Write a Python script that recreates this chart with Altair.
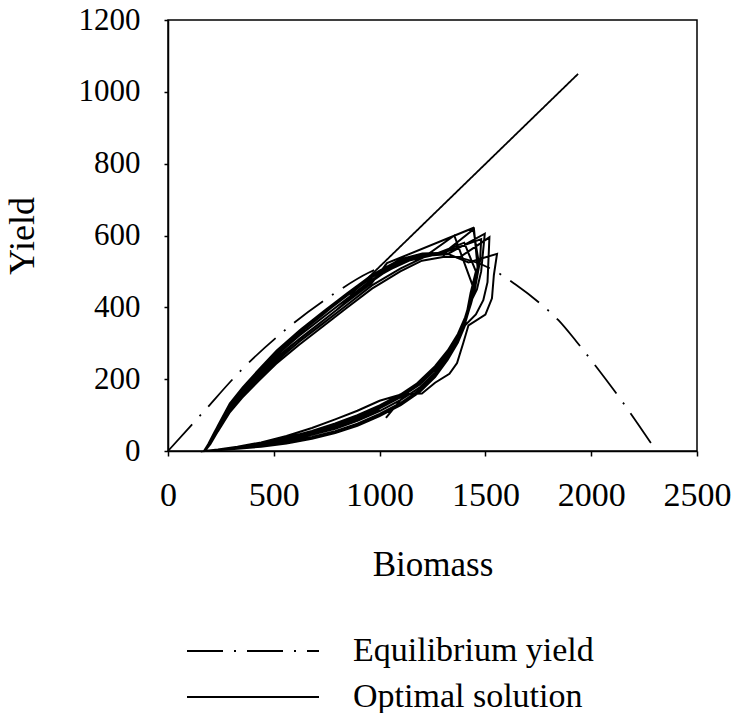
import altair as alt
import pandas as pd

# Equilibrium (sustainable) yield curve
equilibrium_biomass = [0, 163, 356, 550, 785, 950, 1100, 1250, 1400, 1540, 1641, 1760, 1844, 1930, 2022, 2150, 2285]
equilibrium_yield = [0, 106, 231, 335, 438, 497, 530, 545, 535, 503, 464, 410, 365, 305, 236, 135, 20]

# Optimal feedback rule (straight line)
optimal_biomass = [860, 1938]
optimal_yield = [433, 1050]

# Simulated stock trajectory under the optimal rule, one list per cycle (biomass, yield):
# low-yield recovery branch, overshoot near the top, then the harvest branch back to depletion
cycle_1 = [(1030, 92), (1110, 150), (1190, 196), (1262, 236), (1322, 280), (1370, 326), (1404, 372),
           (1428, 418), (1445, 462), (1463, 512), (1446, 618),
           (1300, 550), (1200, 546), (1098, 526), (964, 484), (844, 432), (730, 380), (620, 330),
           (510, 273), (430, 224), (350, 172), (290, 126), (235, 68), (200, 28), (178, 5), (171, 0)]
cycle_2 = [(236, 2), (328, 7), (440, 14), (560, 25), (680, 39), (790, 55), (895, 76), (1000, 103),
           (1100, 134), (1190, 170), (1262, 212), (1322, 259), (1370, 307), (1404, 355), (1428, 404),
           (1445, 452), (1353, 600),
           (1210, 540), (1098, 508), (964, 461), (844, 406), (730, 354), (620, 304), (510, 249),
           (430, 202), (350, 153), (290, 110), (235, 56), (200, 21), (178, 3), (171, 0)]
cycle_3 = [(236, 3), (328, 10), (440, 19), (560, 33), (680, 51), (790, 70), (895, 92), (1000, 119),
           (1100, 150), (1190, 185), (1262, 226), (1322, 271), (1370, 318), (1404, 365), (1428, 412),
           (1460, 450), (1480, 500), (1497, 605),
           (1320, 548), (1200, 543), (1098, 521), (964, 477), (844, 423), (730, 371), (620, 321),
           (510, 265), (430, 217), (350, 166), (290, 121), (235, 64), (200, 26), (178, 4), (171, 0)]
cycle_4 = [(236, 2), (328, 6), (440, 12), (560, 21), (680, 34), (790, 50), (895, 70), (1000, 97),
           (1100, 128), (1190, 164), (1262, 206), (1322, 254), (1370, 302), (1404, 350), (1455, 380),
           (1490, 420), (1510, 470), (1519, 595),
           (1380, 540), (1300, 540), (1200, 530), (1098, 500), (964, 452), (844, 398), (730, 346),
           (620, 296), (510, 242), (430, 196), (350, 148), (290, 106), (235, 54), (200, 19), (178, 3),
           (171, 0)]
cycle_5 = [(236, 4), (328, 12), (440, 24), (560, 42), (680, 64), (790, 88), (895, 112), (1000, 140),
           (1105, 158), (1200, 160), (1262, 190), (1330, 215), (1366, 245), (1395, 300), (1420, 350),
           (1500, 380), (1531, 425), (1540, 490), (1555, 549),
           (1420, 525), (1310, 552), (1202, 550), (1100, 534), (968, 492), (848, 440), (734, 388),
           (624, 337), (514, 280), (434, 230), (354, 178), (292, 132), (237, 72), (201, 30), (178, 6),
           (171, 0)]
cycle_6 = [(236, 3), (328, 10), (440, 20), (560, 35), (680, 54), (790, 74), (895, 96), (1000, 123),
           (1100, 154), (1190, 189), (1262, 230), (1322, 276), (1370, 322), (1404, 368), (1425, 405),
           (1440, 440), (1470, 520), (1442, 621),
           (1035, 523), (964, 468), (844, 414), (730, 362), (620, 312), (510, 256), (430, 209),
           (350, 159), (290, 115), (235, 60), (200, 24), (178, 4), (171, 0)]
cycle_7 = [(236, 3), (328, 8), (440, 16), (560, 29), (680, 45), (790, 62), (895, 84), (1000, 111),
           (1100, 142), (1190, 177), (1262, 218), (1322, 264), (1370, 311), (1405, 360), (1432, 410),
           (1450, 450), (1475, 530), (1480, 590),
           (1290, 550), (1182, 546), (1080, 526), (950, 481), (832, 428), (724, 376), (616, 326),
           (506, 270), (426, 221), (348, 170), (288, 124), (233, 66), (199, 27), (178, 5), (171, 0)]
cycle_8 = [(236, 4), (328, 10), (440, 21), (560, 37), (680, 56), (790, 77), (895, 100), (1000, 127),
           (1100, 158), (1190, 193), (1265, 234), (1326, 279), (1373, 325), (1408, 372), (1430, 440),
           (1455, 500), (1400, 580),
           (1250, 545), (1140, 530), (1030, 500), (910, 450), (795, 392), (690, 343), (582, 294),
           (478, 242), (402, 197), (326, 148), (270, 106), (220, 53), (190, 19), (173, 3), (170, 0),
           (236, 3), (328, 9), (440, 18), (560, 31), (680, 48), (790, 66), (895, 88), (1000, 115)]

cycles = [cycle_1, cycle_2, cycle_3, cycle_4, cycle_5, cycle_6, cycle_7, cycle_8]

series_names = ["Equilibrium yield", "Optimal solution"]

SERIF = "Liberation Serif"

equilibrium_df = pd.DataFrame({
    "biomass": equilibrium_biomass,
    "yield": equilibrium_yield,
    "series": series_names[0],
})
optimal_df = pd.DataFrame({
    "biomass": optimal_biomass,
    "yield": optimal_yield,
    "series": series_names[1],
})
trajectory_rows = []
for cycle in cycles:
    for b, y in cycle:
        trajectory_rows.append({"biomass": b, "yield": y, "step": len(trajectory_rows)})
trajectory_df = pd.DataFrame(trajectory_rows)

x_enc = alt.X(
    "biomass:Q",
    scale=alt.Scale(domain=[0, 2500], nice=False, zero=False),
    axis=alt.Axis(
        title="Biomass",
        values=[0, 500, 1000, 1500, 2000, 2500],
        format="d",
        labelOverlap=False,
        labelFlush=False,
        labelFontSize=34,
        labelPadding=22,
        titleFontSize=35,
        titleBaseline="alphabetic",
        titleY=124,
    ),
)
y_enc = alt.Y(
    "yield:Q",
    scale=alt.Scale(domain=[0, 1200], nice=False, zero=False),
    axis=alt.Axis(
        title="Yield",
        values=[0, 200, 400, 600, 800, 1000, 1200],
        format="d",
        labelOverlap=False,
        labelFlush=False,
        labelFontSize=31,
        labelPadding=24,
        tickSize=4,
        titleFontSize=36,
        titleBaseline="alphabetic",
        titleX=-135,
    ),
)

# Long horizontal legend sample: a custom path 8.8 units wide on a 30 px symbol footprint
dash_scale = alt.Scale(domain=series_names, range=[[36, 11, 2, 11], [1, 0]])
dash_legend = alt.Legend(
    title=None,
    orient="none",
    legendX=68,
    legendY=614,
    symbolType="M-4.4,0H4.4",
    symbolSize=900,
    symbolStrokeWidth=2,
    symbolStrokeColor="black",
    symbolFillColor="transparent",
    labelFont=SERIF,
    labelFontSize=34,
    labelColor="black",
    labelOffset=83,
    labelLimit=500,
    rowPadding=12,
    padding=0,
)

equilibrium_line = alt.Chart(equilibrium_df).mark_line(
    color="black", strokeWidth=1.8, interpolate="monotone"
).encode(
    x=x_enc,
    y=y_enc,
    strokeDash=alt.StrokeDash("series:N", scale=dash_scale, legend=dash_legend),
)

optimal_line = alt.Chart(optimal_df).mark_line(color="black", strokeWidth=1.8).encode(
    x=x_enc,
    y=y_enc,
    strokeDash=alt.StrokeDash("series:N", scale=dash_scale, legend=dash_legend),
)

trajectory = alt.Chart(trajectory_df).mark_line(color="black", strokeWidth=2.0).encode(
    x=x_enc,
    y=y_enc,
    order=alt.Order("step:Q"),
)

chart = alt.layer(equilibrium_line, optimal_line, trajectory).properties(
    width=529,
    height=431,
    autosize=alt.AutoSizeParams(type="none"),
    padding={"left": 168, "top": 20, "right": 40, "bottom": 262},
    background="white",
).configure_view(
    stroke="black",
    strokeWidth=1.5,
).configure_axis(
    grid=False,
    domainColor="black",
    domainWidth=1.5,
    tickColor="black",
    tickWidth=1.5,
    tickSize=5,
    labelColor="black",
    titleColor="black",
    labelFont=SERIF,
    titleFont=SERIF,
    titleFontWeight="normal",
)

chart.save("out.html", embed_options={"renderer": "svg", "actions": False})
